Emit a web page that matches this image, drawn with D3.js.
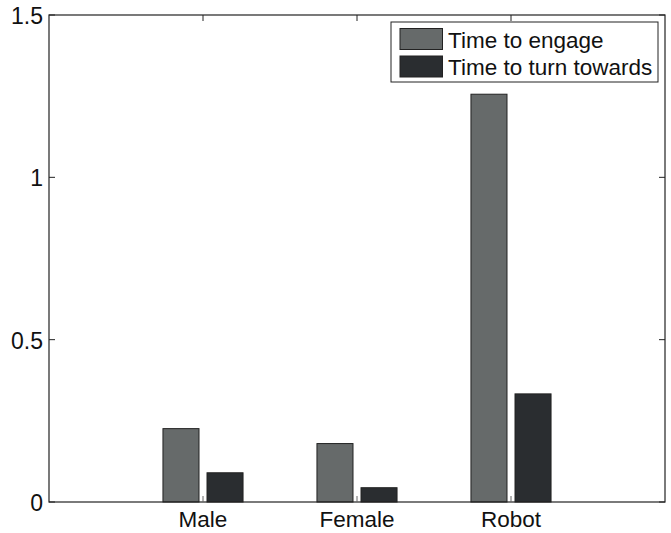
<!DOCTYPE html>
<html>
<head>
<meta charset="utf-8">
<script src="https://cdn.jsdelivr.net/npm/d3@7"></script>
<style>
  body { margin: 0; background: #fff; }
  text { font-family: "Liberation Sans", Arial, sans-serif; fill: #111; }
</style>
</head>
<body>
<svg id="chart" width="671" height="533"></svg>
<script>
// data
const categories = ['Male', 'Female', 'Robot'];
const engage = [0.226, 0.18, 1.256];
const turnTowards = [0.09, 0.044, 0.333];
const seriesNames = ['Time to engage', 'Time to turn towards'];
const yTicks = [0, 0.5, 1, 1.5];

const colors = ['#666a6a', '#2a2d30'];

const svg = d3.select('#chart');
const m = { left: 49, right: 665, top: 15, bottom: 502 };

const x = d3.scaleLinear().domain([0, categories.length + 1]).range([m.left, m.right]);
const y = d3.scaleLinear().domain([0, 1.5]).range([m.bottom, m.top]);

const barW = 0.234, off = 0.143;
const series = [engage, turnTowards];

series.forEach((vals, s) => {
  svg.append('g').selectAll('rect')
    .data(vals)
    .enter().append('rect')
    .attr('x', (d, i) => x(i + 1 + (s === 0 ? -off : off) - barW / 2))
    .attr('width', x(barW) - x(0))
    .attr('y', d => y(d))
    .attr('height', d => y(0) - y(d))
    .attr('fill', colors[s])
    .attr('stroke', '#222')
    .attr('stroke-width', 1);
});

// axes box
svg.append('rect')
  .attr('x', m.left).attr('y', m.top)
  .attr('width', m.right - m.left).attr('height', m.bottom - m.top)
  .attr('fill', 'none').attr('stroke', '#222').attr('stroke-width', 1.2);

// y ticks (inside, both sides)
const yAxis = svg.append('g');
yTicks.forEach(t => {
  yAxis.append('line').attr('x1', m.left).attr('x2', m.left + 6)
    .attr('y1', y(t)).attr('y2', y(t)).attr('stroke', '#222');
  yAxis.append('line').attr('x1', m.right).attr('x2', m.right - 6)
    .attr('y1', y(t)).attr('y2', y(t)).attr('stroke', '#222');
  yAxis.append('text')
    .attr('x', m.left - 6).attr('y', y(t) + 9)
    .attr('text-anchor', 'end')
    .style('font-size', '23px')
    .text(d3.format('')(t));
});

// x ticks
categories.forEach((c, i) => {
  svg.append('line').attr('x1', x(i + 1)).attr('x2', x(i + 1))
    .attr('y1', m.bottom).attr('y2', m.bottom - 6).attr('stroke', '#666');
  svg.append('line').attr('x1', x(i + 1)).attr('x2', x(i + 1))
    .attr('y1', m.top).attr('y2', m.top + 6).attr('stroke', '#222');
  svg.append('text')
    .attr('x', x(i + 1)).attr('y', 527)
    .attr('text-anchor', 'middle')
    .style('font-size', '22.5px')
    .text(c);
});

// legend
const lg = svg.append('g');
lg.append('rect').attr('x', 391).attr('y', 22).attr('width', 267).attr('height', 60)
  .attr('fill', '#fff').attr('stroke', '#222').attr('stroke-width', 1);
seriesNames.forEach((n, i) => {
  lg.append('rect').attr('x', 400).attr('y', 28.5 + i * 27.5).attr('width', 42.5).attr('height', 21)
    .attr('fill', colors[i]).attr('stroke', '#222');
  lg.append('text').attr('x', 448).attr('y', 47.5 + i * 27.5)
    .style('font-size', '22.5px').text(n);
});
</script>
</body>
</html>
